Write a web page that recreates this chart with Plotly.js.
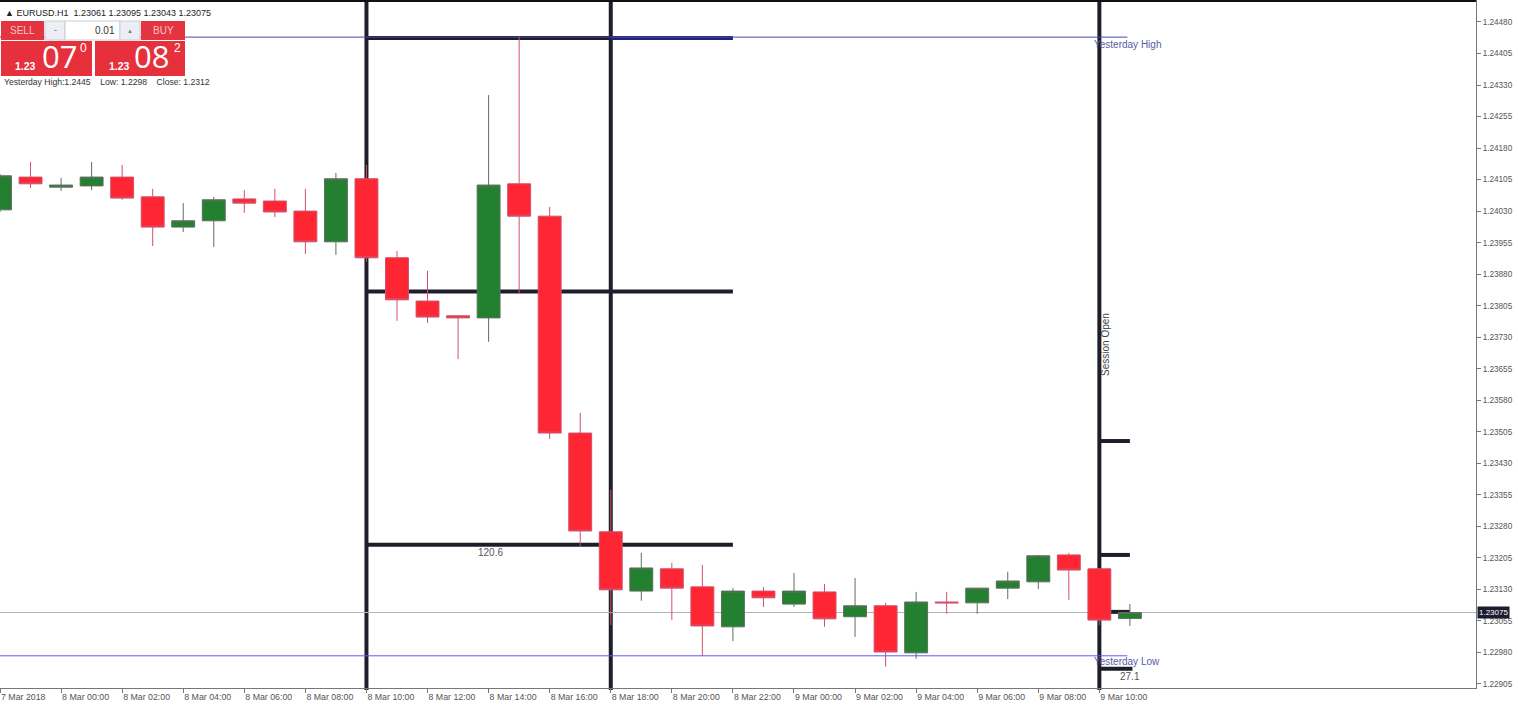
<!DOCTYPE html>
<html>
<head>
<meta charset="utf-8">
<script src="https://cdn.plot.ly/plotly-3.0.1.min.js"></script>
<style>html,body{margin:0;padding:0;background:#fff;}#chart{width:1518px;height:713px;}</style>
</head>
<body>
<div id="chart"></div>
<script>
// ---- DATA ----
const times = ['2018-03-07 22:00','2018-03-07 23:00','2018-03-08 00:00','2018-03-08 01:00','2018-03-08 02:00','2018-03-08 03:00','2018-03-08 04:00','2018-03-08 05:00','2018-03-08 06:00','2018-03-08 07:00','2018-03-08 08:00','2018-03-08 09:00','2018-03-08 10:00','2018-03-08 11:00','2018-03-08 12:00','2018-03-08 13:00','2018-03-08 14:00','2018-03-08 15:00','2018-03-08 16:00','2018-03-08 17:00','2018-03-08 18:00','2018-03-08 19:00','2018-03-08 20:00','2018-03-08 21:00','2018-03-08 22:00','2018-03-08 23:00','2018-03-09 00:00','2018-03-09 01:00','2018-03-09 02:00','2018-03-09 03:00','2018-03-09 04:00','2018-03-09 05:00','2018-03-09 06:00','2018-03-09 07:00','2018-03-09 08:00','2018-03-09 09:00','2018-03-09 10:00','2018-03-09 11:00'];
const open  = [1.24033,1.24111,1.24087,1.24090,1.24111,1.24064,1.23992,1.24007,1.24059,1.24054,1.24030,1.23957,1.24107,1.23919,1.23816,1.23781,1.23776,1.24095,1.24018,1.23502,1.23267,1.23126,1.23179,1.23136,1.23041,1.23126,1.23095,1.23124,1.23065,1.23091,1.22979,1.23100,1.23098,1.23133,1.23148,1.23212,1.23179,1.23061];
const high  = [1.24118,1.24147,1.24109,1.24147,1.24140,1.24083,1.24049,1.24064,1.24080,1.24083,1.24083,1.24121,1.24140,1.23935,1.23888,1.23783,1.24306,1.24445,1.24040,1.23550,1.23367,1.23217,1.23193,1.23188,1.23133,1.23136,1.23169,1.23143,1.23157,1.23098,1.23124,1.23124,1.23133,1.23172,1.23212,1.23217,1.23181,1.23095];
const low   = [1.24028,1.24085,1.24078,1.24080,1.24057,1.23947,1.23980,1.23945,1.24026,1.24016,1.23928,1.23926,1.23909,1.23769,1.23764,1.23678,1.23719,1.23835,1.23488,1.23231,1.23045,1.23103,1.23057,1.22972,1.23007,1.23088,1.23088,1.23041,1.23017,1.22946,1.22965,1.23072,1.23072,1.23107,1.23131,1.23105,1.23045,1.23043];
const close = [1.24114,1.24095,1.24092,1.24111,1.24061,1.23992,1.24007,1.24057,1.24049,1.24028,1.23957,1.24107,1.23919,1.23819,1.23778,1.23776,1.24092,1.24018,1.23502,1.23269,1.23129,1.23181,1.23133,1.23043,1.23126,1.23110,1.23126,1.23060,1.23091,1.22981,1.23100,1.23098,1.23133,1.23150,1.23210,1.23176,1.23057,1.23075];

const xTickVals = ['2018-03-07 22:00','2018-03-08 00:00','2018-03-08 02:00','2018-03-08 04:00','2018-03-08 06:00','2018-03-08 08:00','2018-03-08 10:00','2018-03-08 12:00','2018-03-08 14:00','2018-03-08 16:00','2018-03-08 18:00','2018-03-08 20:00','2018-03-08 22:00','2018-03-09 00:00','2018-03-09 02:00','2018-03-09 04:00','2018-03-09 06:00','2018-03-09 08:00','2018-03-09 10:00'];
const xTickText = ['7 Mar 2018','8 Mar 00:00','8 Mar 02:00','8 Mar 04:00','8 Mar 06:00','8 Mar 08:00','8 Mar 10:00','8 Mar 12:00','8 Mar 14:00','8 Mar 16:00','8 Mar 18:00','8 Mar 20:00','8 Mar 22:00','9 Mar 00:00','9 Mar 02:00','9 Mar 04:00','9 Mar 06:00','9 Mar 08:00','9 Mar 10:00'];
const yTickVals = [1.22905,1.22980,1.23055,1.23130,1.23205,1.23280,1.23355,1.23430,1.23505,1.23580,1.23655,1.23730,1.23805,1.23880,1.23955,1.24030,1.24105,1.24180,1.24255,1.24330,1.24405,1.24480];
const yTickText = ['1.22905','1.22980','1.23055','1.23130','1.23205','1.23280','1.23355','1.23430','1.23505','1.23580','1.23655','1.23730','1.23805','1.23880','1.23955','1.24030','1.24105','1.24180','1.24255','1.24330','1.24405','1.24480'];

// drawn levels
const vLines = ['2018-03-08 10:00','2018-03-08 18:00','2018-03-09 10:00'];
const boxLevels = [1.24442, 1.23839, 1.23236];      // 120.6 pip range
const sessionLevels = [1.23483, 1.23212, 1.230765, 1.22941]; // 27.1 pip range
const yesterdayHigh = 1.24444;
const yesterdayLow = 1.22972;
const bid = 1.23075;

// ---- layout helpers (pixel -> paper) ----
const W = 1476, H = 688;
const P = x => x / W;
const Q = y => 1 - y / H;

const dark = '#1e1e2a';
const shapes = [];
vLines.forEach(t => shapes.push({type:'line', xref:'x', yref:'paper', x0:t, x1:t, y0:-0.003, y1:1, line:{color:dark, width:4}, layer:'below'}));
shapes.push({type:'line', xref:'x', yref:'y', x0:'2018-03-08 10:00', x1:'2018-03-08 18:00', y0:boxLevels[0], y1:boxLevels[0], line:{color:dark, width:4}, layer:'below'});
shapes.push({type:'line', xref:'x', yref:'y', x0:'2018-03-08 18:00', x1:'2018-03-08 22:00', y0:boxLevels[0], y1:boxLevels[0], line:{color:'#23237a', width:4}, layer:'below'});
[boxLevels[1], boxLevels[2]].forEach(v => shapes.push({type:'line', xref:'x', yref:'y', x0:'2018-03-08 10:00', x1:'2018-03-08 22:00', y0:v, y1:v, line:{color:dark, width:4}, layer:'below'}));
sessionLevels.forEach((v,i) => shapes.push({type:'line', xref:'x', yref:'y', x0:'2018-03-09 10:00', x1: i===3 ? '2018-03-09 11:05' : '2018-03-09 11:00', y0:v, y1:v, line:{color:dark, width:4}, layer:'below'}));
shapes.push({type:'line', xref:'paper', yref:'y', x0:0, x1:1, y0:bid, y1:bid, line:{color:'#b4b4b4', width:1}, layer:'below'});
shapes.push({type:'line', xref:'x', yref:'y', x0:'2018-03-07 22:00', x1:'2018-03-09 10:55', y0:yesterdayHigh, y1:yesterdayHigh, line:{color:'#4848a8', width:1}, layer:'below'});
shapes.push({type:'line', xref:'x', yref:'y', x0:'2018-03-07 22:00', x1:'2018-03-09 10:55', y0:yesterdayLow, y1:yesterdayLow, line:{color:'#5a5aff', width:1}, layer:'below'});

// top border
shapes.push({type:'rect', xref:'paper', yref:'paper', x0:0, x1:1, y0:Q(2), y1:Q(0), fillcolor:'#111', line:{width:0}, layer:'above'});

// trade panel
function rect(x0,y0,x1,y1,fill,lineCol){
  shapes.push({type:'rect', xref:'paper', yref:'paper', x0:P(x0), x1:P(x1), y0:Q(y1), y1:Q(y0), fillcolor:fill, line:{color:lineCol||fill, width:lineCol?1:0}, layer:'above'});
}
rect(1,21,44,40,'#e3343f');
rect(45,21,65,40,'#eceef3','#c9cdd8');
rect(65,21,120,40,'#ffffff','#c9cdd8');
rect(120,21,140,40,'#eceef3','#c9cdd8');
rect(141,21,185,40,'#e3343f');
rect(1,41,92,76,'#e6303c');
rect(95,41,185,76,'#e6303c');

const annotations = [];
function txt(x,y,text,size,color,anchor,extra){
  annotations.push(Object.assign({xref:'paper', yref:'paper', x:P(x), y:Q(y), text:text, showarrow:false, xanchor:anchor||'left', yanchor:'middle', font:{family:'Liberation Sans, Arial, sans-serif', size:size, color:color}}, extra||{}));
}
txt(3,13,'▲ EURUSD.H1  1.23061 1.23095 1.23043 1.23075',9,'#222');
txt(22,31,'SELL',10,'#f8c4c4','center');
txt(55,30,'-',9,'#667','center');
txt(117,31,'0.01',10,'#333','right');
txt(130,31,'▲',6,'#778','center');
txt(163,31,'BUY',10,'#f8c4c4','center');
txt(13,66,'<b>1.23</b>',10.5,'#ffffff');
txt(40,56,'07',31,'#ffffff','left',{font:{family:'Open Sans, Liberation Sans, sans-serif', size:31, color:'#ffffff'}});
txt(78,48,'0',12,'#ffffff');
txt(107,66,'<b>1.23</b>',10.5,'#ffffff');
txt(132,56,'08',31,'#ffffff','left',{font:{family:'Open Sans, Liberation Sans, sans-serif', size:31, color:'#ffffff'}});
txt(172,48,'2',12,'#ffffff');
txt(2,82,'Yesterday High:1.2445    Low: 1.2298    Close: 1.2312',8.6,'#333');

// chart labels
annotations.push({xref:'x', yref:'y', x:'2018-03-09 09:45', y:yesterdayHigh, yshift:-7, text:'Yesterday High', showarrow:false, xanchor:'left', yanchor:'middle', font:{family:'Liberation Sans, Arial, sans-serif', size:10, color:'#5a5aa8'}});
annotations.push({xref:'x', yref:'y', x:'2018-03-09 09:45', y:yesterdayLow, yshift:-6, text:'Yesterday Low', showarrow:false, xanchor:'left', yanchor:'middle', font:{family:'Liberation Sans, Arial, sans-serif', size:10, color:'#5a5aa8'}});
annotations.push({xref:'x', yref:'y', x:'2018-03-09 10:13', y:1.23714, text:'Session Open', textangle:-90, showarrow:false, xanchor:'center', yanchor:'middle', font:{family:'Liberation Sans, Arial, sans-serif', size:10, color:'#444'}});
annotations.push({xref:'x', yref:'y', x:'2018-03-08 14:03', y:boxLevels[2], yshift:-8, text:'120.6', showarrow:false, xanchor:'center', yanchor:'middle', font:{family:'Liberation Sans, Arial, sans-serif', size:10, color:'#555'}});
annotations.push({xref:'x', yref:'y', x:'2018-03-09 11:00', y:sessionLevels[3], yshift:-8, text:'27.1', showarrow:false, xanchor:'center', yanchor:'middle', font:{family:'Liberation Sans, Arial, sans-serif', size:10, color:'#555'}});
annotations.push({xref:'paper', yref:'y', x:1, y:bid, xshift:1, text:'1.23075', showarrow:false, xanchor:'left', yanchor:'middle', bgcolor:'#1c1c30', borderpad:1, font:{family:'Liberation Sans, Arial, sans-serif', size:8, color:'#ffffff'}});

const trace = {
  type:'candlestick', x:times, open:open, high:high, low:low, close:close,
  increasing:{fillcolor:'#228030', line:{color:'#5d6f5d', width:1}},
  decreasing:{fillcolor:'#ff2633', line:{color:'#d2506a', width:1}},
  whiskerwidth:0, hoverinfo:'skip'
};

const layout = {
  width:1518, height:713,
  margin:{l:0, r:42, t:0, b:25, pad:0},
  paper_bgcolor:'#ffffff', plot_bgcolor:'#ffffff',
  showlegend:false,
  boxgap:0.25, boxgroupgap:0,
  xaxis:{type:'date', range:['2018-03-07 22:00','2018-03-09 22:20'], rangeslider:{visible:false},
    showgrid:false, zeroline:false, showline:true, linecolor:'#777', linewidth:1,
    ticks:'outside', ticklen:4, tickcolor:'#777', tickvals:xTickVals, ticktext:xTickText,
    ticklabelposition:'outside right', tickfont:{family:'Liberation Sans, Arial, sans-serif', size:8.8, color:'#555'}},
  yaxis:{side:'right', range:[1.228954,1.245323], showgrid:false, zeroline:false, showline:true,
    linecolor:'#777', linewidth:1, ticks:'outside', ticklen:4, tickcolor:'#777',
    tickvals:yTickVals, ticktext:yTickText, tickfont:{family:'Liberation Sans, Arial, sans-serif', size:8.2, color:'#555'}},
  shapes:shapes, annotations:annotations
};

Plotly.newPlot('chart', [trace], layout, {staticPlot:true, displayModeBar:false});
</script>
</body>
</html>
